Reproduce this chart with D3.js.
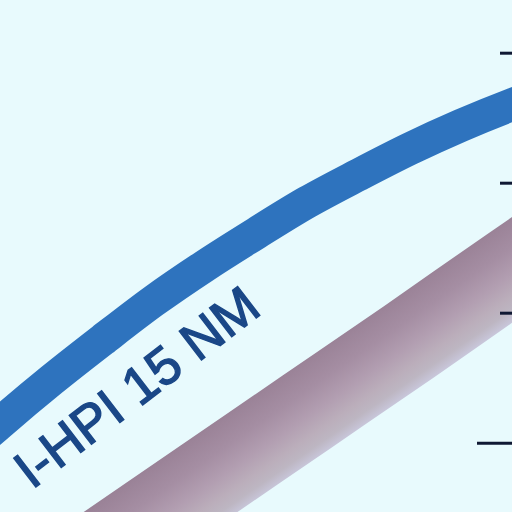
<!DOCTYPE html>
<html>
<head>
<meta charset="utf-8">
<script src="https://cdn.jsdelivr.net/npm/d3@7"></script>
<style>
html,body{margin:0;padding:0;background:#e8fafd;}
svg{display:block;}
</style>
</head>
<body>
<svg id="chart" width="512" height="512"></svg>
<script>
// ---- data ----
const xSteps = [-1, 0, 1, 2, 3, 4, 5, 6, 7, 8, 9, 10, 11];
const hpiValues = [8.0, 11.5, 14.8, 17.9, 20.9, 23.6, 26.1, 28.5, 30.6, 32.6, 34.4, 36.0, 37.4];
const bandSteps = [-1, 0, 2, 4, 6, 8, 10, 11];
const bandValues = [-6.5, -3.8, 1.6, 7.0, 12.4, 17.8, 23.3, 26.0];
const tickValues = [10, 20, 30, 40];
const majorTick = 10;
const seriesLabel = "I-HPI 15 NM";

const W = 512, H = 512;
const svg = d3.select("#chart");
svg.append("rect").attr("width", W).attr("height", H).attr("fill", "#e8fafd");

const x = d3.scaleLinear().domain([0, 10]).range([0, 512]);
const y = d3.scaleLinear().domain([0, 40]).range([572.7, 52.7]);

// gradient for band (perpendicular to band direction)
const defs = svg.append("defs");
const grad = defs.append("linearGradient")
  .attr("id", "bandGrad")
  .attr("gradientUnits", "userSpaceOnUse")
  .attr("x1", 375).attr("y1", 311)
  .attr("x2", 425).attr("y2", 383);
[
  [0, "#9a8297"],
  [0.3, "#a58ea3"],
  [0.55, "#b29eb1"],
  [0.75, "#bbaebb"],
  [0.88, "#bdb6c2"],
  [1, "#c8c6da"]
].forEach(([o, c]) => grad.append("stop").attr("offset", o).attr("stop-color", c));

const bandLine = d3.line()
  .x((d, i) => x(bandSteps[i]))
  .y(d => y(d))
  .curve(d3.curveMonotoneX);

svg.append("path")
  .datum(bandValues)
  .attr("d", bandLine)
  .attr("fill", "none")
  .attr("stroke", "url(#bandGrad)")
  .attr("stroke-width", 87);

const hpiLine = d3.line()
  .x((d, i) => x(xSteps[i]))
  .y(d => y(d))
  .curve(d3.curveMonotoneX);

svg.append("path")
  .datum(hpiValues)
  .attr("d", hpiLine)
  .attr("fill", "none")
  .attr("stroke", "#2e73be")
  .attr("stroke-width", 33);

// label
svg.append("text")
  .attr("transform", "translate(32,490) rotate(-37.5)")
  .attr("font-family", "Liberation Sans, Arial, sans-serif")
  .attr("font-size", 53)
  .attr("fill", "#1a4787")
  .attr("stroke", "#1a4787")
  .attr("stroke-width", 1.4)
  .text(seriesLabel);

// axis on right
const axis = d3.axisLeft(y).tickValues(tickValues).tickSize(14).tickFormat("");
const gAxis = svg.append("g").attr("transform", "translate(514,0)").call(axis);
gAxis.select(".domain").remove();
gAxis.selectAll(".tick line")
  .attr("stroke", "#0f1833")
  .attr("stroke-width", 3)
  .attr("x2", d => d === majorTick ? -37 : -14);
</script>
</body>
</html>
